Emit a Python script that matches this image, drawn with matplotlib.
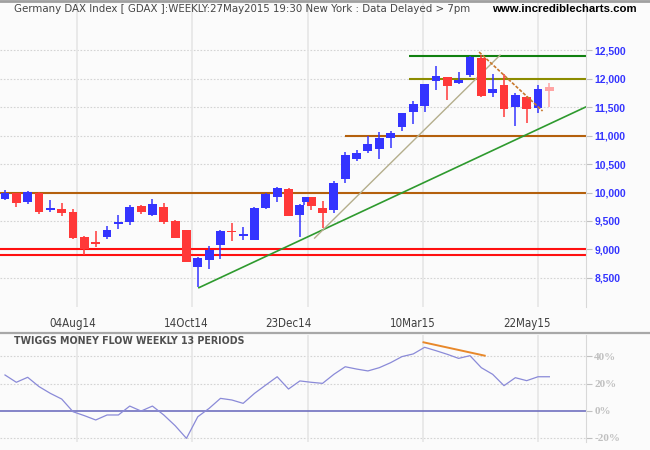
"""Weekly DAX candlestick chart with Twiggs money flow panel."""

import numpy as np
import matplotlib
matplotlib.use("Agg")
import matplotlib.pyplot as plt
from matplotlib import font_manager as fm
from matplotlib.ticker import FuncFormatter

# weekly candles, Jun 2014 - May 2015
opens = [9886, 9986, 9839, 9991, 9700, 9710, 9658, 9219, 9115, 9225,
         9455, 9482, 9763, 9611, 9746, 9500, 9342, 8698, 8816, 9079,
         9320, 9245, 9167, 9728, 9926, 10061, 9605, 9916, 9733, 9693,
         10237, 10588, 10734, 10758, 10961, 11154, 11418, 11523, 11961, 12021,
         11926, 12061, 12365, 11751, 11886, 11505, 11681, 11477, 11856]
highs = [10044, 9995, 10026, 10009, 9868, 9816, 9705, 9237, 9325, 9412,
         9605, 9781, 9786, 9886, 9821, 9518, 9350, 8868, 9061, 9342,
         9470, 9400, 9740, 9997, 10102, 10079, 9790, 9920, 9856, 10207,
         10716, 10746, 10991, 11061, 11084, 11395, 11605, 11910, 12219, 12030,
         12109, 12395, 12412, 12079, 12074, 11740, 11693, 11886, 11926]
lows = [9868, 9751, 9798, 9628, 9653, 9593, 9179, 8903, 9049, 9184,
        9360, 9430, 9628, 9593, 9453, 9196, 8780, 8337, 8653, 8839,
        9154, 9167, 9160, 9710, 9839, 9593, 9225, 9693, 9372, 9635,
        10161, 10558, 10688, 10588, 10775, 11084, 11202, 11418, 11798, 11628,
        11898, 12032, 11681, 11681, 11330, 11172, 11225, 11389, 11505]
closes = [9986, 9821, 10009, 9658, 9710, 9645, 9202, 9009, 9100, 9342,
          9465, 9746, 9658, 9798, 9488, 9207, 8786, 8856, 8991, 9325,
          9305, 9255, 9728, 9979, 10074, 9593, 9781, 9768, 9645, 10172,
          10658, 10698, 10851, 10961, 11044, 11389, 11553, 11903, 12044, 11874,
          11974, 12382, 11693, 11816, 11460, 11711, 11460, 11816, 11786]

# short holiday week squeezed in after week 26 (open, high, low, close)
short_week = (9839, 9916, 9781, 9916)

# twiggs money flow (%)
tmf = [26.3, 20.9, 24.6, 17.7, 12.7, 8.5, -0.9, -3.8, -7.0, -3.3,
       -3.3, 3.3, -0.4, 3.3, -3.3, -11.2, -20.6, -4.6, 1.6, 9.0,
       7.8, 5.3, 12.7, 18.9, 25.0, 15.9, 21.9, 20.9, 20.1, 26.8,
       32.4, 30.7, 29.3, 31.7, 35.4, 39.9, 41.9, 46.8, 44.3, 41.6,
       38.6, 40.6, 31.7, 26.8, 18.4, 24.3, 22.1, 25.0, 25.0]

date_labels = ['04Aug14', '14Oct14', '23Dec14', '10Mar15', '22May15']
date_weeks = [6, 16, 25, 36, 46]

price_ticks = [8500, 9000, 9500, 10000, 10500, 11000, 11500, 12000, 12500]
tmf_ticks = [-20, 0, 20, 40]

# trend lines: (week, price) pairs
green_trend = ([17.1, 51.2], [8330, 11500])
tan_trend = ([27.3, 43.65], [9200, 12410])
orange_trend = ([41.8, 47.4], [12465, 11430])
tmf_trend = ([36.9, 42.3], [50.5, 40.6])

# horizontal levels: (price, first week, colour)
levels = [(10000, -1, '#b4600c'), (11000, 30.0, '#b4600c'),
          (12000, 35.6, '#8c8c00'), (12400, 35.6, '#108010'),
          (9000, -1, '#ff1010'), (8900, -1, '#ff1010')]

BLUE = '#3434ff'
RED = '#ff3838'
PINK = '#ffa4a4'


def narrow_font(size, bold=False):
    """pick a condensed sans face if one is installed"""
    weight = 'bold' if bold else 'normal'
    for f in fm.fontManager.ttflist:
        if f.stretch in ('condensed', 'semi-condensed') and 'Sans' in f.name \
                and 'Mono' not in f.name and (f.weight == 700) == bold \
                and f.style == 'normal':
            return fm.FontProperties(fname=f.fname, size=size)
    return fm.FontProperties(family='Liberation Sans', size=size - 1, weight=weight)


fig = plt.figure(figsize=(6.5, 4.5), dpi=100)
fig.patch.set_facecolor('#fbfbfb')

XLIM = (-0.44, 51.23)
ax = fig.add_axes([0, 143 / 450, 586 / 650, 304 / 450])
ax.set_facecolor('#fbfbfb')
ax.set_xlim(*XLIM)
ax.set_ylim(7991, 13325)

# grid
for y in price_ticks:
    ax.axhline(y, color='#d4d4d4', lw=0.8, ls=(0, (1.5, 1.5)), zorder=0)
grid_x = 6.38 + 10.15 * np.arange(5)
for x in grid_x:
    ax.axvline(x, color='#e6e6e6', lw=1.2, zorder=0)

# levels
for price, start, col in levels:
    ax.hlines(price, start, XLIM[1], color=col, lw=1.5, zorder=1)

# candles
n = len(opens)
for i in range(n):
    o, h, l, c = opens[i], highs[i], lows[i], closes[i]
    col = BLUE if c > o else RED
    if i == n - 1:
        col = PINK
    ax.vlines(i, l, h, color=col, lw=1.1, zorder=3)
    ax.bar(i, max(abs(c - o), 25), bottom=min(o, c), width=0.78,
           color=col, zorder=3, linewidth=0)
so, sh, sl, sc = short_week
ax.vlines(26.4, sl, sh, color=BLUE, lw=1.1, zorder=3)
ax.bar(26.5, sc - so, bottom=so, width=0.6, color=BLUE, zorder=3, linewidth=0)

# trend lines
ax.plot(*green_trend, color='#2e9a2e', lw=1.2, zorder=2)
ax.plot(*tan_trend, color='#b4ae8c', lw=1.0, zorder=2)
ax.plot(*orange_trend, color='#c8782c', lw=1.2, ls=(0, (2, 1)), zorder=4)

ax.yaxis.tick_right()
ax.set_yticks(price_ticks)
ax.yaxis.set_major_formatter(FuncFormatter(lambda v, p: f'{int(v):,}'))
ax.tick_params(axis='y', colors='#c0c0c0', length=4, width=0.8, pad=2,
               labelcolor=BLUE, labelsize=7.5)
for t in ax.get_yticklabels():
    t.set_fontweight('bold')
    t.set_family('Liberation Sans')
ax.set_xticks(date_weeks)
ax.set_xticklabels(date_labels, fontproperties=narrow_font(8.3), color='#404040')
ax.tick_params(axis='x', length=0, pad=7)
for s in ['top', 'left', 'bottom']:
    ax.spines[s].set_visible(False)
ax.spines['right'].set_color('#d8d8d8')

# lower panel
ax2 = fig.add_axes([0, 8 / 450, 586 / 650, 107 / 450])
ax2.set_facecolor('#fbfbfb')
ax2.set_xlim(*XLIM)
ax2.set_ylim(-23.3, 55.9)
for y in [-20, 20, 40]:
    ax2.axhline(y, color='#d4d4d4', lw=0.8, ls=(0, (1.5, 1.5)), zorder=0)
for x in grid_x:
    ax2.axvline(x, color='#e6e6e6', lw=1.2, zorder=0)
ax2.axhline(0, color='#7070c0', lw=1.2, zorder=1)
ax2.plot(range(n), tmf, color='#8a8ad8', lw=0.9, zorder=2)
ax2.plot(*tmf_trend, color='#e8882a', lw=1.4, zorder=3)
ax2.yaxis.tick_right()
ax2.set_yticks(tmf_ticks)
ax2.set_yticklabels([f'{v}%' for v in tmf_ticks], family='Liberation Serif',
                    fontweight='bold', fontsize=8, color='#8484c8')
ax2.tick_params(axis='y', colors='#c0c0c0', length=4, width=0.8, pad=2)
ax2.set_xticks([])
for s in ['top', 'left', 'bottom']:
    ax2.spines[s].set_visible(False)
ax2.spines['right'].set_color('#d8d8d8')
fig.text(14 / 650, 1 - 341 / 450, 'TWIGGS MONEY FLOW WEEKLY 13 PERIODS',
         va='center', ha='left', fontproperties=narrow_font(7.6, bold=True),
         color='#505050')

# header and separators
fig.text(14 / 650, 1 - 9 / 450,
         'Germany DAX Index [ GDAX ]:WEEKLY:27May2015 19:30 New York : Data Delayed > 7pm',
         va='center', ha='left', fontproperties=narrow_font(8.2), color='#454545')
fig.text(637 / 650, 1 - 9 / 450, 'www.incrediblecharts.com', va='center',
         ha='right', family='Liberation Sans', fontweight='bold', fontsize=8.2,
         color='black')
fig.add_artist(plt.Line2D([0, 1], [1 - 1 / 450, 1 - 1 / 450], color='#a0a0a0', lw=2))
fig.add_artist(plt.Line2D([0, 1], [1 - 333 / 450, 1 - 333 / 450], color='#a8a8a8', lw=1.6))

fig.savefig('out.png', dpi=100, facecolor=fig.get_facecolor())
